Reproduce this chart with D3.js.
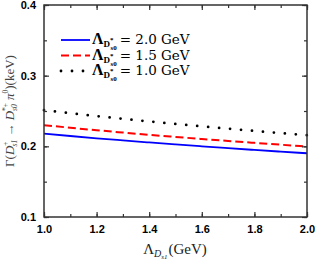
<!DOCTYPE html>
<html>
<head>
<meta charset="utf-8">
<script src="https://cdn.jsdelivr.net/npm/d3@7"></script>
<style>
  body { margin: 0; background: #fff; }
  svg { display: block; }
</style>
</head>
<body>
<div id="chart"></div>
<script>
// Lambda_Ds1 values (GeV)
const lambdaDs1 = [1.0, 1.1, 1.2, 1.3, 1.4, 1.5, 1.6, 1.7, 1.8, 1.9, 2.0];
// width (keV) for each Lambda_Ds0* curve
const width20 = [0.2180, 0.2146, 0.2114, 0.2084, 0.2055, 0.2027, 0.2000, 0.1974, 0.1949, 0.1925, 0.1902];
const width15 = [0.2300, 0.2263, 0.2228, 0.2195, 0.2163, 0.2133, 0.2104, 0.2076, 0.2049, 0.2023, 0.1998];
const width10 = [0.2512, 0.2469, 0.2428, 0.2389, 0.2352, 0.2317, 0.2283, 0.2250, 0.2218, 0.2187, 0.2157];
const legendValues = ["2.0", "1.5", "1.0"];
const xTicks = [1.0, 1.2, 1.4, 1.6, 1.8, 2.0];
const yTicks = [0.1, 0.2, 0.3, 0.4];

const W = 316, H = 261;
const margin = { top: 5, right: 9, bottom: 44, left: 44 };

const svg = d3.select("#chart").append("svg")
  .attr("width", W).attr("height", H);

const x = d3.scaleLinear().domain([1.0, 2.0]).range([margin.left, W - margin.right]);
const y = d3.scaleLinear().domain([0.1, 0.4]).range([H - margin.bottom, margin.top]);

const series = [
  { vals: width20, color: "#0000ff", dash: null, cap: "butt", sw: 1.8 },
  { vals: width15, color: "#ff0000", dash: "8,4", cap: "butt", sw: 2 },
  { vals: width10, color: "#000000", dash: "0,11", cap: "round", sw: 2.8 }
];

const line = d3.line().x((d, i) => x(lambdaDs1[i])).y(d => y(d)).curve(d3.curveMonotoneX);

svg.append("g").selectAll("path")
  .data(series)
  .join("path")
    .attr("d", d => line(d.vals))
    .attr("fill", "none")
    .attr("stroke", d => d.color)
    .attr("stroke-width", d => d.sw)
    .attr("stroke-dasharray", d => d.dash)
    .attr("stroke-linecap", d => d.cap);

// axes (ticks pointing inward, on all four sides)
const axisColor = "#333";
function styleAxis(g) {
  g.select(".domain").remove();
  g.selectAll(".tick line").attr("stroke", axisColor).attr("stroke-width", 1.2);
}
const xMinor = d3.range(1.0, 2.001, 0.1);
const yMinor = d3.range(0.1, 0.401, 0.05);

function labelStyle(g) {
  g.selectAll("text")
    .attr("font-family", "Liberation Sans, Arial, sans-serif")
    .attr("font-weight", "bold")
    .attr("font-size", 11)
    .attr("fill", "#000");
}
function xAxis(g, orient, withLabels) {
  const mk = orient === "bottom" ? d3.axisBottom : d3.axisTop;
  g.call(mk(x).tickValues(xMinor).tickSize(-3).tickFormat("")).call(styleAxis);
  g.append("g")
    .call(mk(x).tickValues(xTicks).tickSize(-5)
      .tickFormat(withLabels ? d3.format(".1f") : "").tickPadding(8))
    .call(styleAxis).call(labelStyle);
}
function yAxis(g, orient, withLabels) {
  const mk = orient === "left" ? d3.axisLeft : d3.axisRight;
  g.call(mk(y).tickValues(yMinor).tickSize(-3).tickFormat("")).call(styleAxis);
  g.append("g")
    .call(mk(y).tickValues(yTicks).tickSize(-5)
      .tickFormat(withLabels ? d3.format(".1f") : "").tickPadding(8))
    .call(styleAxis).call(labelStyle);
}

svg.append("g").attr("transform", `translate(0,${H - margin.bottom})`).call(g => xAxis(g, "bottom", true));
svg.append("g").attr("transform", `translate(0,${margin.top})`).call(g => xAxis(g, "top", false));
svg.append("g").attr("transform", `translate(${margin.left},0)`).call(g => yAxis(g, "left", true));
svg.append("g").attr("transform", `translate(${W - margin.right},0)`).call(g => yAxis(g, "right", false));

svg.append("rect")
  .attr("x", margin.left).attr("y", margin.top)
  .attr("width", W - margin.left - margin.right)
  .attr("height", H - margin.top - margin.bottom)
  .attr("fill", "none").attr("stroke", axisColor).attr("stroke-width", 1.5);

// math-ish text helper: parts = [text, size, dx, dy, weight, style]
function mathText(sel, parts) {
  parts.forEach(p => {
    sel.append("tspan")
      .attr("font-size", p[1])
      .attr("dx", p[2] || 0)
      .attr("dy", p[3] || 0)
      .attr("font-weight", p[4] || "normal")
      .attr("font-style", p[5] || "normal")
      .text(p[0]);
  });
}
const serif = "Liberation Serif, Times New Roman, serif";

// legend
const leg = svg.append("g");
series.forEach((s, i) => {
  const ly = 40 + i * 15.5;
  leg.append("line")
    .attr("x1", 61).attr("x2", 90)
    .attr("y1", ly).attr("y2", ly)
    .attr("stroke", s.color)
    .attr("stroke-width", s.sw)
    .attr("stroke-dasharray", s.dash)
    .attr("stroke-linecap", s.cap);
  const t = leg.append("text")
    .attr("x", 92).attr("y", ly + 4)
    .attr("font-family", serif)
    .attr("fill", "#000");
  mathText(t, [
    ["Λ", 16, 0, 0, "bold"],
    ["D", 9, 0, 3, "bold"],
    ["*", 7, 0, -5, "bold"],
    ["s0", 7, -3, 8, "bold"],
  ]);
  t.append("tspan")
    .attr("font-family", "DejaVu Serif, serif")
    .attr("font-size", 13.5)
    .attr("dx", 3).attr("dy", -6)
    .text("= " + legendValues[i] + " GeV");
});

// x label
const xl = svg.append("text")
  .attr("x", 175).attr("y", 254)
  .attr("text-anchor", "middle")
  .attr("font-family", serif)
  .attr("fill", "#222");
mathText(xl, [
  ["Λ", 15, 0, 0],
  ["D", 10, 0, 3, "normal", "italic"],
  ["s1", 7, 0, 2, "normal", "italic"],
  ["(GeV)", 15, 1, -5]
]);

// y label
const yl = svg.append("text")
  .attr("transform", `translate(14,111) rotate(-90)`)
  .attr("text-anchor", "middle")
  .attr("font-family", serif)
  .attr("fill", "#444");
mathText(yl, [
  ["Γ(", 13, 0, 0],
  ["D", 13, 0, 0, "normal", "italic"],
  ["+", 7.5, 0, -6],
  ["s1", 7.5, -5, 9, "normal", "italic"],
  [" → ", 13, 0, -3],
  ["D", 13, 0, 0, "normal", "italic"],
  ["*+", 7.5, 0, -6],
  ["s0", 7.5, -8, 9, "normal", "italic"],
  [" π", 13, 1, -3, "normal", "italic"],
  ["0", 7.5, 0, -6],
  [")(keV)", 13, 0, 6]
]);
</script>
</body>
</html>
